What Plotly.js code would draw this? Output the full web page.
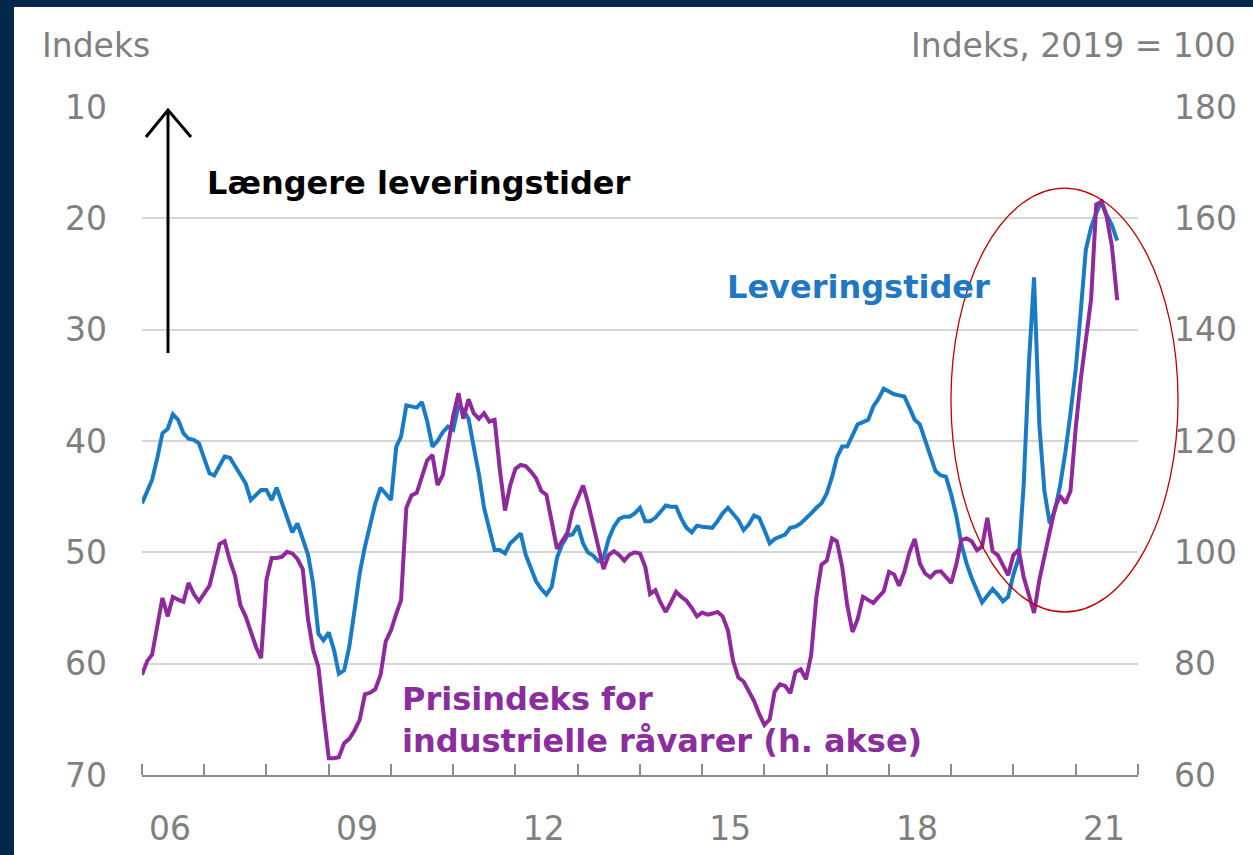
<!DOCTYPE html>
<html>
<head>
<meta charset="utf-8">
<script src="https://cdn.plot.ly/plotly-3.0.1.min.js"></script>
<style>
  html, body { margin: 0; padding: 0; width: 1253px; height: 855px; overflow: hidden; background: #03284a; }
  #plot { position: absolute; left: 14px; top: 7px; width: 1239px; height: 848px; background: #fff; }
</style>
</head>
<body>
<div id="plot"></div>
<script>
// monthly series, first value is January 2006
var firstYear = 2006;

// PMI suppliers' delivery times (left axis, inverted)
var leveringstider = [
  45.6, 44.5, 43.5, 41.5, 39.3, 38.9, 37.6, 38.1, 39.3, 39.8, 39.9, 40.2,
  41.5, 42.9, 43.1, 42.2, 41.4, 41.5, 42.2, 43.0, 43.8, 45.3, 44.8, 44.4,
  44.4, 45.3, 44.2, 45.6, 46.8, 48.2, 47.4, 48.8, 50.2, 52.8, 57.3, 57.9,
  57.2, 58.8, 60.9, 60.6, 58.5, 55.2, 51.9, 49.5, 47.4, 45.6, 44.2, 44.8,
  45.3, 40.5, 39.6, 36.8, 36.9, 37.0, 36.5, 38.2, 40.5, 40.0, 39.2, 38.7,
  39.0, 36.8, 37.2, 38.0, 40.5, 43.0, 46.0, 48.0, 49.8, 49.8, 50.1, 49.2,
  48.7, 48.3, 50.2, 51.5, 52.6, 53.3, 53.8, 53.1, 50.5, 49.3, 48.5, 48.4,
  47.6, 49.2, 50.0, 50.3, 50.8, 50.5, 48.8, 47.7, 47.0, 46.8, 46.8, 46.5,
  46.0, 47.2, 47.2, 46.9, 46.3, 45.8, 45.9, 45.9, 47.0, 47.8, 48.2, 47.6,
  47.7, 47.8, 47.8, 47.2, 46.5, 46.0, 46.6, 47.1, 48.0, 47.5, 46.7, 46.9,
  48.0, 49.2, 48.8, 48.6, 48.4, 47.8, 47.7, 47.4, 47.0, 46.5, 46.0, 45.6,
  44.7, 43.2, 41.5, 40.5, 40.5, 39.5, 38.5, 38.3, 38.1, 36.9, 36.2, 35.3,
  35.6, 35.8, 35.9, 36.0, 37.0, 38.1, 38.5, 40.0, 41.5, 42.7, 43.1, 43.2,
  44.8, 46.8, 49.2, 51.0, 52.3, 53.4, 54.5, 53.9, 53.3, 53.8, 54.4, 54.0,
  52.0, 50.5, 44.0, 33.0, 25.3, 38.5, 44.5, 47.4, 46.2, 44.0, 41.0, 37.5,
  33.5, 28.0, 22.8, 20.8, 19.5, 18.5, 19.7, 20.6, 22.0
];

// price index for industrial commodities, 2019 = 100 (right axis)
var raavarer = [
  78.0, 80.5, 81.6, 86.5, 91.8, 88.5, 92.0, 91.5, 91.1, 94.5, 92.5, 91.2,
  92.5, 94.0, 97.5, 101.5, 102.0, 98.5, 95.8, 90.5, 88.5, 85.5, 83.0, 81.0,
  95.0, 99.0, 99.0, 99.2, 100.1, 99.8, 98.8, 97.0, 88.0, 82.5, 79.4, 71.0,
  63.0, 63.0, 63.2, 65.7, 66.5, 68.0, 69.9, 74.5, 74.8, 75.4, 78.0, 84.0,
  86.0, 89.0, 91.4, 108.0, 110.2, 110.7, 113.5, 116.5, 117.5, 112.1, 113.9, 119.5,
  124.5, 128.6, 124.0, 127.5, 125.0, 124.0, 125.0, 123.5, 123.8, 115.0, 107.5, 112.0,
  115.0, 115.7, 115.5, 114.5, 113.3, 111.0, 110.3, 105.5, 100.6, 102.0, 103.5, 107.5,
  110.0, 112.0, 109.0, 105.0, 101.0, 97.0, 99.5, 100.2, 99.5, 98.5, 99.6, 100.0,
  99.8, 97.4, 92.5, 93.2, 91.0, 89.3, 91.0, 92.9, 92.0, 91.3, 90.0, 88.5,
  89.2, 88.8, 89.0, 89.3, 88.5, 86.0, 80.5, 77.5, 76.8, 75.0, 73.3, 71.0,
  69.0, 70.0, 75.0, 76.3, 76.0, 74.7, 78.5, 79.0, 77.2, 81.5, 92.0, 97.8,
  98.5, 102.5, 102.0, 97.5, 90.5, 85.7, 88.0, 92.0, 91.5, 90.9, 92.0, 93.0,
  96.5, 96.0, 94.0, 96.5, 100.0, 102.4, 98.0, 96.2, 95.5, 96.5, 96.6, 95.5,
  94.5, 98.0, 102.2, 102.5, 102.0, 100.4, 101.0, 106.2, 100.2, 99.5, 97.5, 95.9,
  99.5, 100.5, 95.6, 92.3, 89.1, 95.0, 99.2, 103.5, 108.0, 110.2, 108.8, 111.0,
  122.5, 131.5, 138.5, 145.5, 162.5, 163.0, 160.3, 155.0, 145.3
];

var leftTicks = [10, 20, 30, 40, 50, 60, 70];
var rightTicks = [60, 80, 100, 120, 140, 160, 180];
var yearLabels = ['06', '09', '12', '15', '18', '21'];
var labelYears = [2006, 2009, 2012, 2015, 2018, 2021];

function monthDate(i) {
  var y = firstYear + Math.floor(i / 12);
  var m = (i % 12) + 1;
  return y + '-' + (m < 10 ? '0' + m : m) + '-01';
}

var datesBlue = leveringstider.map(function(v, i) { return monthDate(i); });
var datesPurple = raavarer.map(function(v, i) { return monthDate(i); });

var yearStarts = [];
for (var y = 2006; y <= 2022; y++) yearStarts.push(y + '-01-01');
var labelPos = labelYears.map(function(y) { return y + '-06-15'; });

var gray = '#7f7f7f';
var blue = '#1a7bc5';
var purple = '#8e2a9b';
var font = 'DejaVu Sans';

var traces = [
  {x: datesBlue, y: leveringstider, type: 'scatter', mode: 'lines', yaxis: 'y',
   line: {color: blue, width: 4}, hoverinfo: 'none'},
  {x: datesPurple, y: raavarer, type: 'scatter', mode: 'lines', yaxis: 'y2',
   line: {color: purple, width: 4}, hoverinfo: 'none'}
];

var layout = {
  width: 1239, height: 848,
  margin: {l: 128, r: 115, t: 100, b: 80},
  paper_bgcolor: '#ffffff', plot_bgcolor: '#ffffff',
  showlegend: false, hovermode: false,
  font: {family: font, color: gray, size: 33},
  xaxis: {
    type: 'date', range: ['2006-01-01', '2022-01-01'],
    tickmode: 'array', tickvals: labelPos, ticktext: yearLabels,
    ticks: '', showgrid: false, zeroline: false,
    showline: true, linecolor: '#8c8c8c', linewidth: 2,
    tickfont: {family: font, size: 33, color: gray},
    ticklabelstandoff: 23,
    minor: {tickmode: 'array', tickvals: yearStarts, ticks: 'inside', ticklen: 11,
            tickwidth: 2, tickcolor: '#8c8c8c', showgrid: false}
  },
  yaxis: {
    range: [70, 10], tickmode: 'array', tickvals: leftTicks,
    showgrid: true, gridcolor: '#d6d6d6', gridwidth: 2,
    zeroline: false, showline: false, ticks: '',
    tickfont: {family: font, size: 33, color: gray},
    ticklabelstandoff: 34
  },
  yaxis2: {
    overlaying: 'y', side: 'right', range: [60, 180],
    tickmode: 'array', tickvals: rightTicks,
    showgrid: false, zeroline: false, showline: false, ticks: '',
    tickfont: {family: font, size: 33, color: gray},
    ticklabelstandoff: 35
  },
  shapes: [
    // upward arrow
    {type: 'path', xref: 'paper', yref: 'paper',
     path: 'M 0.0261,0.6317 L 0.0261,0.9955 M 0.0040,0.9551 L 0.0261,0.9955 L 0.0492,0.9551',
     line: {color: '#000000', width: 3}},
    // red highlight ellipse
    {type: 'circle', xref: 'paper', yref: 'paper',
     x0: 0.8122, x1: 1.0402, y0: 0.244, y1: 0.8787,
     line: {color: '#c00000', width: 1.3}}
  ],
  annotations: [
    {text: 'Indeks', xref: 'paper', yref: 'paper', x: -0.1024, y: 1.0928,
     xanchor: 'left', yanchor: 'middle', showarrow: false,
     font: {family: font, size: 33, color: gray}},
    {text: 'Indeks, 2019 = 100', xref: 'paper', yref: 'paper', x: 1.1004, y: 1.0928,
     xanchor: 'right', yanchor: 'middle', showarrow: false,
     font: {family: font, size: 33, color: gray}},
    {text: 'Længere leveringstider', xref: 'paper', yref: 'paper', x: 0.0633, y: 0.886,
     xanchor: 'left', yanchor: 'middle', showarrow: false,
     font: {family: font, size: 32, color: '#000000', weight: 'bold'}},
    {text: 'Leveringstider', xref: 'paper', yref: 'paper', x: 0.5853, y: 0.7305,
     xanchor: 'left', yanchor: 'middle', showarrow: false,
     font: {family: font, size: 32, color: '#1f78c1', weight: 'bold'}},
    {text: 'Prisindeks for<br>industrielle råvarer (h. akse)', xref: 'paper', yref: 'paper',
     x: 0.259, y: 0.0823, xanchor: 'left', yanchor: 'middle', align: 'left', showarrow: false,
     font: {family: font, size: 32, color: '#8b2d9d', weight: 'bold'}}
  ]
};

Plotly.newPlot('plot', traces, layout, {staticPlot: true, displayModeBar: false});
</script>
</body>
</html>
